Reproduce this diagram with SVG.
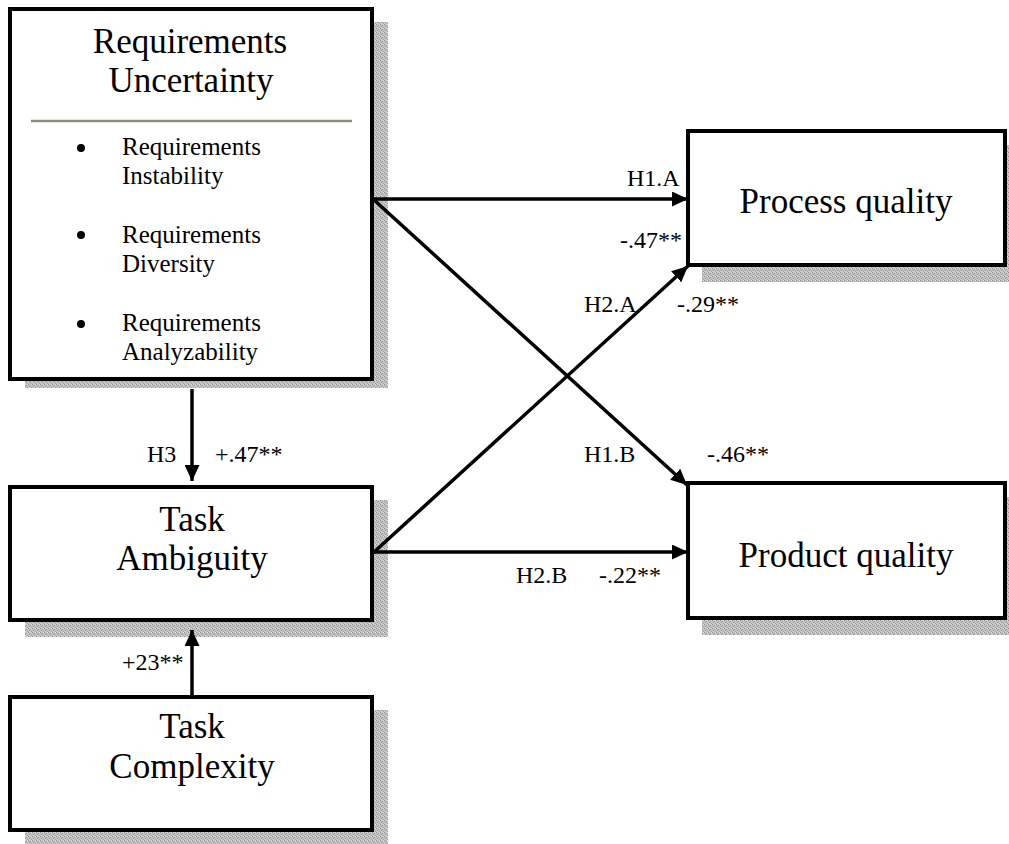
<svg xmlns="http://www.w3.org/2000/svg" width="1009" height="844" viewBox="0 0 1009 844">
<style>
.box{fill:#fff;stroke:#000;stroke-width:4}
.shadow{fill:url(#dots)}
.t{font-family:"Liberation Serif","Times New Roman",serif;fill:#000}
.big{font-size:35px;text-anchor:middle}
.item{font-size:25px}
.lbl{font-size:24px}
.conn{stroke:#000;stroke-width:3.5;fill:none;marker-end:url(#ah)}
</style>
<defs>
<pattern id="dots" width="4" height="4" patternUnits="userSpaceOnUse">
<rect width="4" height="4" fill="#c4c4c4"/>
<rect x="0" y="0" width="1" height="1" fill="#8e8e8e"/>
<rect x="2" y="1" width="1" height="1" fill="#9c9c9c"/>
<rect x="1" y="2" width="1" height="1" fill="#939393"/>
<rect x="3" y="3" width="1" height="1" fill="#a0a0a0"/>
<rect x="3" y="0" width="1" height="1" fill="#dedede"/>
<rect x="1" y="3" width="1" height="1" fill="#d8d8d8"/>
</pattern>
<marker id="ah" markerUnits="userSpaceOnUse" markerWidth="16" markerHeight="15" refX="16" refY="7.5" orient="auto">
<path d="M0,0 L16,7.5 L0,15 z" fill="#000"/>
</marker>
</defs>
<rect width="1009" height="844" fill="#fff"/>

<g id="requirements-uncertainty">
<rect class="shadow" x="25" y="22" width="363" height="366"/>
<rect class="box" x="10" y="9" width="362" height="370"/>
<text class="t big" x="190" y="53">Requirements</text>
<text class="t big" x="191" y="92">Uncertainty</text>
<line x1="31" y1="121" x2="352" y2="121" stroke="#8c8c80" stroke-width="2.5"/>
<circle cx="81" cy="148" r="4"/>
<text class="t item" x="122" y="155">Requirements</text>
<text class="t item" x="122" y="184">Instability</text>
<circle cx="81" cy="235" r="4"/>
<text class="t item" x="122" y="243">Requirements</text>
<text class="t item" x="122" y="272">Diversity</text>
<circle cx="81" cy="324" r="4"/>
<text class="t item" x="122" y="331">Requirements</text>
<text class="t item" x="122" y="360">Analyzability</text>
</g>

<g id="task-ambiguity">
<rect class="shadow" x="25" y="500" width="363" height="137"/>
<rect class="box" x="10" y="487" width="362" height="133"/>
<text class="t big" x="192" y="531">Task</text>
<text class="t big" x="192" y="570">Ambiguity</text>
</g>

<g id="task-complexity">
<rect class="shadow" x="25" y="710" width="363" height="136"/>
<rect class="box" x="10" y="697" width="362" height="133"/>
<text class="t big" x="192" y="738">Task</text>
<text class="t big" x="192" y="778">Complexity</text>
</g>

<g id="process-quality">
<rect class="shadow" x="702" y="145" width="320" height="137"/>
<rect class="box" x="688" y="131" width="317" height="134"/>
<text class="t big" x="846" y="213">Process quality</text>
</g>

<g id="product-quality">
<rect class="shadow" x="702" y="497" width="320" height="138"/>
<rect class="box" x="688" y="483" width="317" height="135"/>
<text class="t big" x="846" y="567">Product quality</text>
</g>

<g id="connectors">
<line class="conn" x1="373" y1="199" x2="688" y2="199"/>
<line class="conn" x1="373" y1="199" x2="687" y2="485"/>
<line class="conn" x1="373" y1="553" x2="688" y2="266"/>
<line class="conn" x1="373" y1="552" x2="688" y2="552"/>
<line class="conn" x1="192" y1="389" x2="192" y2="481"/>
<line class="conn" x1="192" y1="697" x2="192" y2="630"/>
</g>

<g id="labels">
<text class="t lbl" x="627" y="186">H1.A</text>
<text class="t lbl" x="620" y="248">-.47**</text>
<text class="t lbl" x="584" y="312">H2.A</text>
<text class="t lbl" x="677" y="312">-.29**</text>
<text class="t lbl" x="584" y="462">H1.B</text>
<text class="t lbl" x="707" y="462">-.46**</text>
<text class="t lbl" x="516" y="583">H2.B</text>
<text class="t lbl" x="599" y="583">-.22**</text>
<text class="t lbl" x="147" y="462">H3</text>
<text class="t lbl" x="215" y="462">+.47**</text>
<text class="t lbl" x="122" y="670">+23**</text>
</g>
</svg>
